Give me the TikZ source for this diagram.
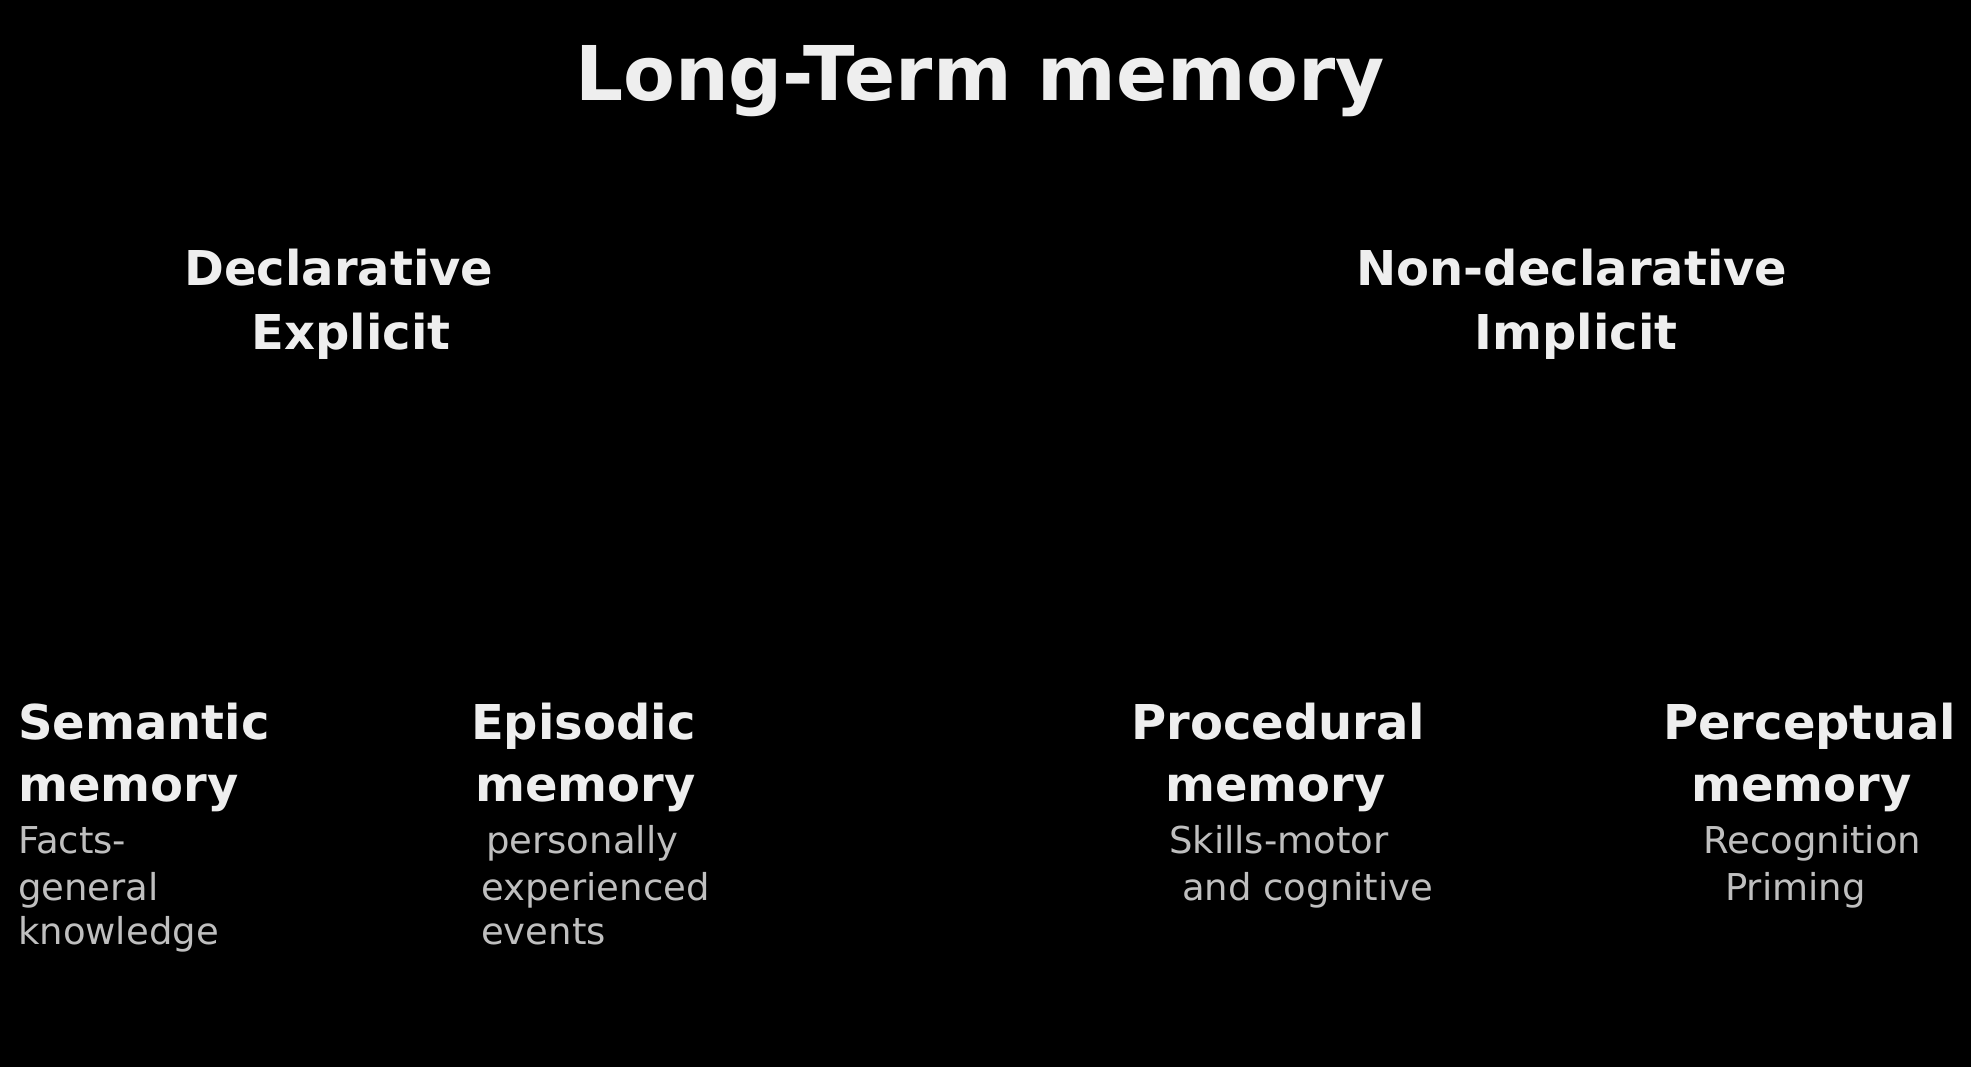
\documentclass[tikz,border=0pt]{standalone}
\usepackage{fontspec}
\setmainfont{DejaVu Sans}
\definecolor{headc}{HTML}{EEEEEE}
\definecolor{subc}{HTML}{BFBFBF}
\tikzset{
  head/.style={inner sep=0pt, text=headc, font=\fontsize{48}{58}\selectfont\bfseries},
  title/.style={inner sep=0pt, text=headc, font=\fontsize{75.5}{90}\selectfont\bfseries},
  note/.style={inner sep=0pt, text=subc, font=\fontsize{37}{44}\selectfont},
}
\begin{document}
\begin{tikzpicture}[x=1pt,y=-1pt]
\fill[black] (0,0) rectangle (1971,1067);
\useasboundingbox (0,0) rectangle (1971,1067);
% title
\node[title, anchor=base] (ltm) at (980,101) {Long-Term memory};
% second level
\node[head, anchor=base] (decl1) at (339,286) {Declarative};
\node[head, anchor=base] (decl2) at (351,349) {Explicit};
\node[head, anchor=base] (ndecl1) at (1572,286) {Non-declarative};
\node[head, anchor=base] (ndecl2) at (1576,349) {Implicit};
% semantic
\node[head, anchor=base west] (sem1) at (18,739) {Semantic};
\node[head, anchor=base west] (sem2) at (18,801) {memory};
\node[note, anchor=base west] (sem3) at (18,853) {Facts-};
\node[note, anchor=base west] (sem4) at (18,900) {general};
\node[note, anchor=base west] (sem5) at (18,944) {knowledge};
% episodic
\node[head, anchor=base west] (epi1) at (471,739) {Episodic};
\node[head, anchor=base west] (epi2) at (475,801) {memory};
\node[note, anchor=base west] (epi3) at (486,853) {personally};
\node[note, anchor=base west] (epi4) at (481,900) {experienced};
\node[note, anchor=base west] (epi5) at (481,944) {events};
% procedural
\node[head, anchor=base west] (pro1) at (1131,739) {Procedural};
\node[head, anchor=base west] (pro2) at (1165,801) {memory};
\node[note, anchor=base west] (pro3) at (1169,853) {Skills-motor};
\node[note, anchor=base west] (pro4) at (1182,900) {and cognitive};
% perceptual
\node[head, anchor=base west] (per1) at (1663,739) {Perceptual};
\node[head, anchor=base west] (per2) at (1691,801) {memory};
\node[note, anchor=base west] (per3) at (1703,853) {Recognition};
\node[note, anchor=base west] (per4) at (1725,900) {Priming};
\end{tikzpicture}
\end{document}
